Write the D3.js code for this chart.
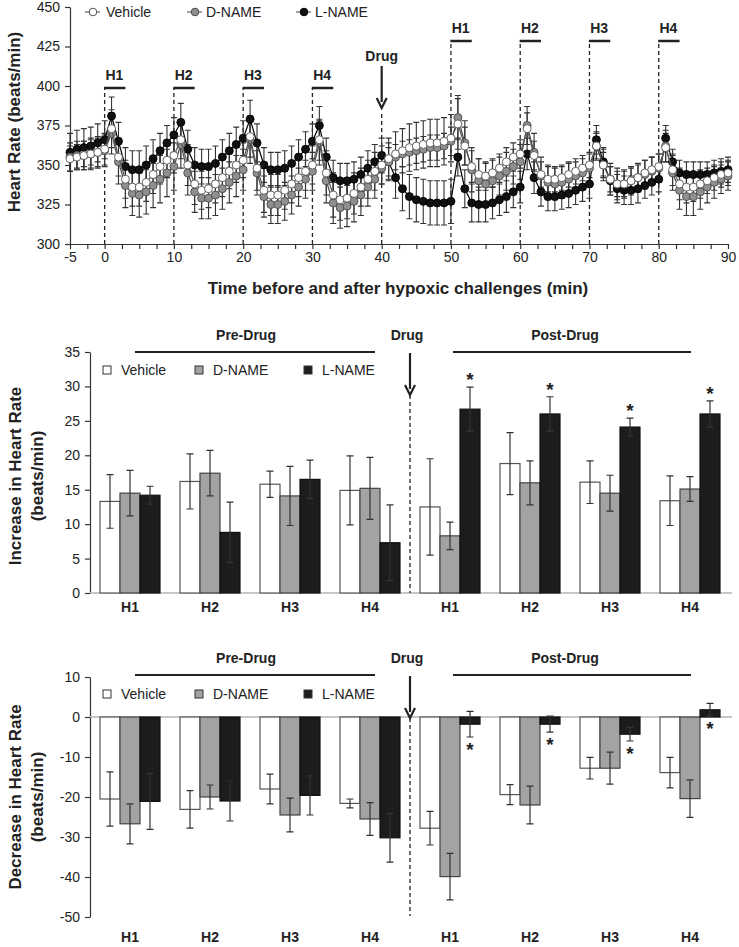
<!DOCTYPE html>
<html>
<head>
<meta charset="utf-8">
<script src="https://cdn.jsdelivr.net/npm/d3@7"></script>
<style>
  body { margin: 0; background: #fff; }
  text { font-family: "Liberation Sans", Arial, sans-serif; fill: #222; }
</style>
</head>
<body>
<script>
// ---------- data: time course (1-min samples, -5 .. 90 min)
var hrTime = d3.range(-5, 91);

var vehicleHR = [354,355,356,357,358,
  360,373,355,341,336,336,339,344,349,353,
  356,366,350,338,334,335,338,342,346,350,
  353,368,348,334,331,331,334,338,342,346,
  350,366,345,331,328,329,332,336,341,346,
  350,354,357,359,361,362,363,364,364,365,
  367,376,362,349,344,343,345,348,352,355,
  357,373,356,344,341,341,342,344,346,348,
  350,362,350,341,338,338,340,342,345,347,
  349,361,347,338,336,336,338,340,342,344,
  345];
var vehicleSem = [8,8,9,9,9,
  10,12,12,12,12,12,12,12,11,11,
  11,12,13,13,12,12,12,12,11,11,
  11,13,14,14,13,13,12,12,12,12,
  12,13,14,14,13,13,13,12,12,12,
  12,13,14,14,15,15,15,15,15,15,
  15,16,12,10,10,9,9,9,9,9,
  9,10,9,8,8,8,8,8,8,8,
  8,8,8,8,8,8,8,8,8,8,
  8,9,10,10,10,9,9,8,8,8,
  8];

var dnameHR = [355,356,356,357,358,
  359,370,352,337,332,331,333,337,341,345,
  349,363,345,333,329,329,331,335,339,343,
  347,366,345,330,325,325,327,331,336,341,
  346,364,340,326,323,324,327,331,336,341,
  348,352,355,357,358,359,360,361,361,362,
  365,380,364,347,340,338,340,343,346,349,
  352,375,358,343,339,338,339,341,343,345,
  348,362,350,341,338,338,340,342,344,346,
  348,362,345,334,330,330,333,336,339,341,
  343];
var dnameSem = [9,9,9,10,10,
  10,13,14,14,14,14,14,14,15,15,
  15,15,14,13,13,13,13,13,13,13,
  13,15,14,13,12,12,12,12,12,12,
  12,14,14,13,13,13,13,13,12,12,
  10,9,8,8,8,8,8,8,8,8,
  9,14,14,14,14,13,13,12,12,11,
  11,12,12,12,11,10,10,10,9,9,
  9,9,10,10,10,9,9,9,9,9,
  9,10,11,12,12,12,11,10,10,9,
  9];

var lnameHR = [358,360,361,362,364,
  366,381,365,349,347,347,350,354,359,364,
  369,377,360,350,349,349,351,355,359,363,
  367,379,364,350,347,347,348,351,355,360,
  365,375,355,342,340,340,341,344,348,352,
  356,352,342,335,330,328,327,326,326,326,
  327,355,335,326,325,325,326,328,330,333,
  336,357,342,333,330,330,331,332,334,336,
  338,366,352,340,335,334,334,335,337,339,
  341,367,352,345,344,344,344,344,345,346,
  347];
var lnameSem = [12,12,12,12,12,
  12,12,12,12,12,12,12,12,11,11,
  11,12,12,11,11,11,11,11,11,11,
  11,12,12,11,11,11,11,11,11,11,
  11,12,12,11,11,11,11,11,11,11,
  11,12,13,14,14,14,14,14,14,14,
  14,12,12,12,11,11,10,10,10,10,
  10,10,10,9,9,9,9,9,9,9,
  9,9,9,9,9,9,9,9,8,8,
  8,8,8,8,8,8,8,8,8,8,
  8];

var challengeStart = [0, 10, 20, 30, 50, 60, 70, 80];
var challengeLabel = ["H1", "H2", "H3", "H4", "H1", "H2", "H3", "H4"];
var drugTime = 40;
var xTickLabels = [-5, 0, 10, 20, 30, 40, 50, 60, 70, 80, 90];

// ---------- data: bar panels
var barGroups = ["H1", "H2", "H3", "H4", "H1", "H2", "H3", "H4"];
var treatments = ["Vehicle", "D-NAME", "L-NAME"];

var incVehicle = [13.3, 16.2, 15.8, 14.9, 12.5, 18.8, 16.1, 13.4];
var incVehicleSem = [3.9, 4.0, 1.9, 5.0, 7.0, 4.5, 3.1, 3.6];
var incDname = [14.5, 17.4, 14.1, 15.2, 8.3, 16.0, 14.5, 15.1];
var incDnameSem = [3.3, 3.3, 4.3, 4.5, 2.0, 3.2, 2.6, 1.8];
var incLname = [14.2, 8.8, 16.5, 7.3, 26.7, 26.0, 24.1, 26.0];
var incLnameSem = [1.3, 4.4, 2.8, 5.5, 3.2, 2.5, 1.3, 1.9];

var decVehicle = [-20.5, -23.1, -18.0, -21.6, -27.8, -19.4, -12.8, -13.9];
var decVehicleSem = [6.8, 4.7, 3.7, 1.1, 4.2, 2.5, 2.7, 3.8];
var decDname = [-26.7, -20.0, -24.5, -25.5, -39.9, -22.0, -12.8, -20.4];
var decDnameSem = [5.0, 3.0, 4.2, 4.1, 5.8, 4.7, 4.0, 4.7];
var decLname = [-21.1, -21.0, -19.6, -30.2, -1.8, -1.8, -4.3, 1.8];
var decLnameSem = [7.0, 5.0, 4.9, 6.1, 3.2, 2.0, 1.7, 1.6];

var lnameSig = [false, false, false, false, true, true, true, true];

// ---------- setup
var width = 739, height = 947;
var svg = d3.select("body").append("svg")
    .attr("width", width)
    .attr("height", height);

var ink = "#222";

function arrowDown(x, y1, y2) {
    svg.append("line").attr("x1", x).attr("x2", x).attr("y1", y1).attr("y2", y2 - 6)
        .attr("stroke", ink).attr("stroke-width", 2.2);
    svg.append("path")
        .attr("d", "M" + (x - 5) + "," + (y2 - 10) + "L" + x + "," + y2 + "L" + (x + 5) + "," + (y2 - 10))
        .attr("fill", "none").attr("stroke", ink).attr("stroke-width", 2.2);
}

function styleAxis(g) {
    g.selectAll("path.domain").attr("stroke", "#333").attr("stroke-width", 1.2);
    g.selectAll(".tick line").attr("stroke", "#333").attr("stroke-width", 1.2);
    g.selectAll(".tick text").attr("font-size", 14).attr("fill", "#333")
        .attr("font-family", "Liberation Sans, Arial, sans-serif");
}

function yTitle(lines, cx, cy) {
    lines.forEach(function (s, i) {
        svg.append("text")
            .attr("transform", "translate(" + (cx + i * 22) + "," + cy + ") rotate(-90)")
            .attr("text-anchor", "middle")
            .attr("font-size", 17).attr("font-weight", "bold")
            .text(s);
    });
}

// plain hyphen for negatives, like the original figure
var plain = function (d) { return String(d); };

// ---------- top panel: time course
var x = d3.scaleLinear().domain([-5, 90]).range([70, 728]);
var y = d3.scaleLinear().domain([300, 450]).range([244, 7]);

var xAxis = svg.append("g").attr("transform", "translate(0," + y(300) + ")")
    .call(d3.axisBottom(x).tickValues(d3.range(-5, 90.1, 2.5)).tickSizeInner(5).tickSizeOuter(0)
        .tickPadding(13)
        .tickFormat(function (d) { return xTickLabels.indexOf(d) >= 0 ? String(d) : ""; }));
styleAxis(xAxis);
xAxis.selectAll(".tick text").attr("dy", "0");

var yAxis = svg.append("g").attr("transform", "translate(" + x(-5) + ",0)")
    .call(d3.axisLeft(y).tickValues([300, 325, 350, 375, 400, 425, 450]).tickSizeInner(5).tickSizeOuter(0)
        .tickPadding(5).tickFormat(plain));
styleAxis(yAxis);

svg.append("text").attr("x", 398).attr("y", 294).attr("text-anchor", "middle")
    .attr("font-size", 17).attr("font-weight", "bold")
    .text("Time before and after hypoxic challenges (min)");
yTitle(["Heart Rate (beats/min)"], 20, 122);

// challenge markers
challengeStart.forEach(function (t, i) {
    var post = t > drugTime;
    var by = post ? 41 : 88;
    svg.append("line").attr("x1", x(t)).attr("x2", x(t)).attr("y1", y(300)).attr("y2", by)
        .attr("stroke", ink).attr("stroke-width", 1.3).attr("stroke-dasharray", "4,3");
    svg.append("line").attr("x1", x(t) - 0.6).attr("x2", x(t + 3)).attr("y1", by).attr("y2", by)
        .attr("stroke", ink).attr("stroke-width", 2.5);
    svg.append("text").attr("x", x(t + 1.4)).attr("y", by - 8).attr("text-anchor", "middle")
        .attr("font-size", 14).attr("font-weight", "bold").text(challengeLabel[i]);
});
svg.append("line").attr("x1", x(drugTime)).attr("x2", x(drugTime)).attr("y1", y(300)).attr("y2", 112)
    .attr("stroke", ink).attr("stroke-width", 1.3).attr("stroke-dasharray", "4,3");
svg.append("text").attr("x", x(drugTime)).attr("y", 61).attr("text-anchor", "middle")
    .attr("font-size", 14).attr("font-weight", "bold").text("Drug");
arrowDown(x(drugTime), 66, 108);

var tsSeries = [
    { name: "L-NAME", mean: lnameHR, sem: lnameSem, fill: "#111", stroke: "#000" },
    { name: "D-NAME", mean: dnameHR, sem: dnameSem, fill: "#8f8f8f", stroke: "#4a4a4a" },
    { name: "Vehicle", mean: vehicleHR, sem: vehicleSem, fill: "#fff", stroke: "#555" }
];

var line = d3.line()
    .x(function (d) { return x(d.t); })
    .y(function (d) { return y(d.v); });

// error bars of every series first, then lines and markers on top
var tsLayer = tsSeries.map(function (s) {
    return hrTime.map(function (t, i) { return { t: t, v: s.mean[i], e: s.sem[i] }; });
});
tsSeries.forEach(function (s, k) {
    svg.append("path")
        .attr("d", tsLayer[k].map(function (d) {
            var px = x(d.t), lo = y(d.v - d.e), hi = y(d.v + d.e);
            return "M" + px + "," + lo + "V" + hi +
                "M" + (px - 3) + "," + hi + "H" + (px + 3) +
                "M" + (px - 3) + "," + lo + "H" + (px + 3);
        }).join(""))
        .attr("stroke", "#333").attr("stroke-width", 1.1).attr("fill", "none");
});
tsSeries.forEach(function (s, k) {
    var g = svg.append("g");
    g.append("path").datum(tsLayer[k]).attr("d", line)
        .attr("fill", "none").attr("stroke", s.stroke).attr("stroke-width", 1.2);
    g.selectAll("circle").data(tsLayer[k]).enter().append("circle")
        .attr("cx", function (d) { return x(d.t); })
        .attr("cy", function (d) { return y(d.v); })
        .attr("r", 4)
        .attr("fill", s.fill).attr("stroke", s.stroke).attr("stroke-width", 0.9);
});

// top legend
var tsLegend = [
    { name: "Vehicle", cx: 93, tx: 106, fill: "#fff", stroke: "#555" },
    { name: "D-NAME", cx: 195, tx: 206, fill: "#8f8f8f", stroke: "#4a4a4a" },
    { name: "L-NAME", cx: 304, tx: 315, fill: "#111", stroke: "#000" }
];
tsLegend.forEach(function (l) {
    svg.append("line").attr("x1", l.cx - 8).attr("x2", l.cx + 7).attr("y1", 12).attr("y2", 12)
        .attr("stroke", "#444").attr("stroke-width", 1);
    svg.append("circle").attr("cx", l.cx).attr("cy", 12).attr("r", 3.8)
        .attr("fill", l.fill).attr("stroke", l.stroke);
    svg.append("text").attr("x", l.tx).attr("y", 17).attr("font-size", 14).attr("fill", "#333").text(l.name);
});

// ---------- bar panels
var barFill = { "Vehicle": "#fff", "D-NAME": "#a3a3a3", "L-NAME": "#1c1c1c" };
var barStroke = { "Vehicle": "#555", "D-NAME": "#444", "L-NAME": "#111" };

var xb = d3.scaleBand().domain(d3.range(barGroups.length)).range([90, 730])
    .paddingInner(0.25).paddingOuter(0.125);
var xs = d3.scaleBand().domain(treatments).range([0, xb.bandwidth()]);
var drugX = (xb(3) + xb.bandwidth() + xb(4)) / 2;

function barPanel(cfg) {
    var yb = d3.scaleLinear().domain(cfg.domain).range(cfg.range);
    var g = svg.append("g");

    var ax = g.append("g").attr("transform", "translate(90,0)")
        .call(d3.axisLeft(yb).tickValues(cfg.ticks).tickSizeInner(5).tickSizeOuter(0)
            .tickPadding(5).tickFormat(plain));
    styleAxis(ax);

    g.append("line").attr("x1", 90).attr("x2", 732).attr("y1", yb(0)).attr("y2", yb(0))
        .attr("stroke", "#b5b5b5").attr("stroke-width", 1.5);

    var series = [
        { name: "Vehicle", v: cfg.vehicle, e: cfg.vehicleSem },
        { name: "D-NAME", v: cfg.dname, e: cfg.dnameSem },
        { name: "L-NAME", v: cfg.lname, e: cfg.lnameSem }
    ];
    series.forEach(function (s) {
        var data = barGroups.map(function (h, i) { return { i: i, v: s.v[i], e: s.e[i] }; });
        g.selectAll(null).data(data).enter().append("rect")
            .attr("x", function (d) { return xb(d.i) + xs(s.name); })
            .attr("width", xs.bandwidth())
            .attr("y", function (d) { return Math.min(yb(d.v), yb(0)); })
            .attr("height", function (d) { return Math.abs(yb(d.v) - yb(0)); })
            .attr("fill", barFill[s.name]).attr("stroke", barStroke[s.name]).attr("stroke-width", 1.2);
        g.append("path")
            .attr("d", data.map(function (d) {
                var cx = xb(d.i) + xs(s.name) + xs.bandwidth() / 2;
                var lo = yb(d.v - d.e), hi = yb(d.v + d.e);
                return "M" + cx + "," + lo + "V" + hi +
                    "M" + (cx - 3.5) + "," + hi + "H" + (cx + 3.5) +
                    "M" + (cx - 3.5) + "," + lo + "H" + (cx + 3.5);
            }).join(""))
            .attr("stroke", "#333").attr("stroke-width", 1.2).attr("fill", "none");
    });

    // significance stars on L-NAME
    barGroups.forEach(function (h, i) {
        if (!lnameSig[i]) return;
        var cx = xb(i) + xs("L-NAME") + xs.bandwidth() / 2;
        var sy = cfg.starAbove ? yb(cfg.lname[i] + cfg.lnameSem[i]) - 1 : yb(cfg.lname[i] - cfg.lnameSem[i]) + 19;
        g.append("text").attr("x", cx).attr("y", sy).attr("text-anchor", "middle")
            .attr("font-size", 19).attr("font-weight", "bold").text("*");
    });

    // group labels
    barGroups.forEach(function (h, i) {
        g.append("text").attr("x", xb(i) + xb.bandwidth() / 2).attr("y", cfg.labelY)
            .attr("text-anchor", "middle").attr("font-size", 14).attr("font-weight", "bold").text(h);
    });

    // phase annotations
    var ty = cfg.headY;
    g.append("text").attr("x", 246).attr("y", ty).attr("text-anchor", "middle")
        .attr("font-size", 14).attr("font-weight", "bold").text("Pre-Drug");
    g.append("text").attr("x", 565).attr("y", ty).attr("text-anchor", "middle")
        .attr("font-size", 14).attr("font-weight", "bold").text("Post-Drug");
    g.append("text").attr("x", drugX - 3).attr("y", ty).attr("text-anchor", "middle")
        .attr("font-size", 14).attr("font-weight", "bold").text("Drug");
    g.append("line").attr("x1", 135).attr("x2", 375).attr("y1", ty + 12).attr("y2", ty + 12)
        .attr("stroke", ink).attr("stroke-width", 2);
    g.append("line").attr("x1", 453).attr("x2", 691).attr("y1", ty + 12).attr("y2", ty + 12)
        .attr("stroke", ink).attr("stroke-width", 2);
    arrowDown(drugX, ty + 13, cfg.arrowEnd);
    g.append("line").attr("x1", drugX).attr("x2", drugX).attr("y1", cfg.arrowEnd).attr("y2", cfg.dashEnd)
        .attr("stroke", ink).attr("stroke-width", 1.3).attr("stroke-dasharray", "4,3");

    // legend
    var lx = [103, 195, 304];
    treatments.forEach(function (t, i) {
        g.append("rect").attr("x", lx[i]).attr("y", cfg.legendY - 9).attr("width", 8).attr("height", 8)
            .attr("fill", barFill[t]).attr("stroke", "#333").attr("stroke-width", 1);
        g.append("text").attr("x", lx[i] + 18).attr("y", cfg.legendY).attr("font-size", 14)
            .attr("fill", "#333").text(t);
    });

    yTitle(cfg.title, 21, cfg.titleY);
}

barPanel({
    domain: [0, 35], range: [593, 352], ticks: [0, 5, 10, 15, 20, 25, 30, 35],
    vehicle: incVehicle, vehicleSem: incVehicleSem,
    dname: incDname, dnameSem: incDnameSem,
    lname: incLname, lnameSem: incLnameSem,
    starAbove: true, labelY: 612, headY: 340, arrowEnd: 395, dashEnd: 593,
    legendY: 375, title: ["Increase in Heart Rate", "(beats/min)"], titleY: 476
});

barPanel({
    domain: [-50, 10], range: [917, 677], ticks: [-50, -40, -30, -20, -10, 0, 10],
    vehicle: decVehicle, vehicleSem: decVehicleSem,
    dname: decDname, dnameSem: decDnameSem,
    lname: decLname, lnameSem: decLnameSem,
    starAbove: false, labelY: 942, headY: 663, arrowEnd: 718, dashEnd: 916,
    legendY: 699, title: ["Decrease in Heart Rate", "(beats/min)"], titleY: 797
});
</script>
</body>
</html>
